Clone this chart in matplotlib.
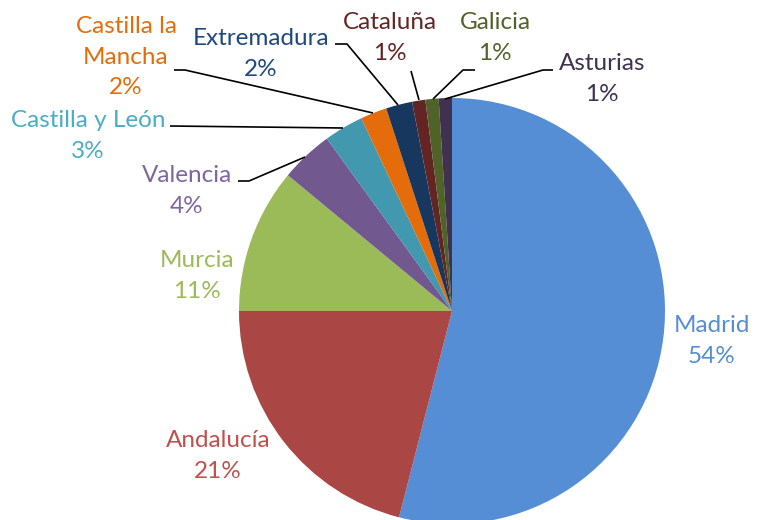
import matplotlib.pyplot as plt

plt.rcParams['font.family'] = ['Lato', 'DejaVu Sans']

regions = ['Madrid', 'Andalucía', 'Murcia', 'Valencia', 'Castilla y León',
           'Castilla la\nMancha', 'Extremadura', 'Cataluña', 'Galicia', 'Asturias']
pct = [54, 21, 11, 4, 3, 2, 2, 1, 1, 1]

wedge_colors = ['#558ED5', '#AA4644', '#9BBB59', '#71588F', '#4198AF',
                '#E46C0A', '#17375E', '#632523', '#4F6228', '#403151']
text_colors = ['#558ED5', '#C0504D', '#9BBB59', '#8064A2', '#4BACC6',
               '#E46C0A', '#1F497D', '#632523', '#4F6228', '#403151']

H = 520
# label centres (x, y from top) and leader polylines, in pixels
label_pos = [(712, 341), (218, 456), (197, 276), (187, 191), (88, 136),
             (126, 57), (261, 54), (390, 38), (495, 38), (602, 79)]
leaders = [
    None, None, None,
    [(238, 181), (249, 181), (305, 157)],
    [(170, 126), (343, 128)],
    [(174, 70), (185, 70), (373, 113)],
    [(335, 44), (347, 44), (398, 105)],
    [(411, 71), (419, 100)],
    [(475, 70), (463, 70), (433, 99)],
    [(553, 70), (543, 70), (445, 99)],
]

fig = plt.figure(figsize=(7.6, 5.2), dpi=100)
ax = fig.add_axes([0, 0, 1, 1])

ax.pie(pct, colors=wedge_colors, startangle=90, counterclock=False,
       center=(452, H - 311), radius=213, frame=True,
       wedgeprops=dict(linewidth=0))
ax.set_xlim(0, 760)
ax.set_ylim(0, H)
ax.set_aspect('equal')
ax.axis('off')

for name, p, (x, y), c, ld in zip(regions, pct, label_pos, text_colors, leaders):
    ax.text(x, H - y, f'{name}\n{p}%', color=c, fontsize=17.5,
            ha='center', va='center', linespacing=1.58)
    if ld:
        xs = [q[0] for q in ld]
        ys = [H - q[1] for q in ld]
        ax.plot(xs, ys, color='black', linewidth=1.2, solid_capstyle='butt')

fig.savefig('out.png', dpi=100)
